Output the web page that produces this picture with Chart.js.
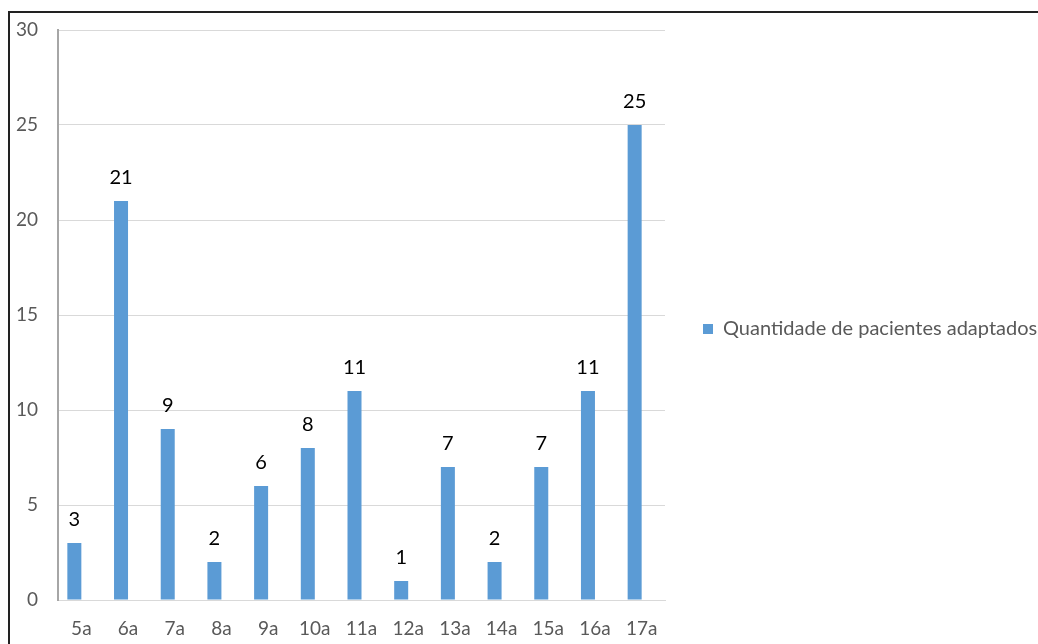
<!DOCTYPE html>
<html>
<head>
<meta charset="utf-8">
<script src="https://cdn.jsdelivr.net/npm/chart.js@4/dist/chart.umd.min.js"></script>
<style>
  html, body { margin: 0; padding: 0; background: #fff; overflow: hidden; }
  #frame {
    position: absolute; left: 8px; top: 11px;
    width: 1030px; height: 633px;
    border-top: 2px solid #222; border-left: 2px solid #222;
  }
  #scaleChart { display: block; }
</style>
</head>
<body>
<div id="frame">
  <canvas id="scaleChart" width="1028" height="631"></canvas>
</div>
<script>
const ages = ['5a', '6a', '7a', '8a', '9a', '10a', '11a', '12a', '13a', '14a', '15a', '16a', '17a'];
const patients = [3, 21, 9, 2, 6, 8, 11, 1, 7, 2, 7, 11, 25];
const seriesName = 'Quantidade de pacientes adaptados';
const yTicks = [0, 5, 10, 15, 20, 25, 30];

const FONT = 'Lato, "Open Sans", sans-serif';

const barLabels = {
  id: 'barLabels',
  afterInit(chart) {
    // keep the legend column at a fixed width so the plot ends where the original does
    let leg = chart.legend;
    let origFit = leg.fit;
    leg.fit = function() {
      origFit.call(this);
      this.width = 373;
    };
  },
  afterLayout(chart) {
    // legend sits a bit above the middle in the original
    chart.legend.top -= 8;
    chart.legend.bottom -= 8;
  },
  afterDatasetsDraw(chart) {
    let ctx = chart.ctx;
    let meta = chart.getDatasetMeta(0);
    ctx.save();
    ctx.font = '20px ' + FONT;
    ctx.fillStyle = '#000';
    ctx.textAlign = 'center';
    ctx.textBaseline = 'alphabetic';
    meta.data.forEach(function(bar, i) {
      ctx.fillText(String(patients[i]), bar.x, bar.y - 17);
    });
    ctx.restore();
  }
};

function setupChart() {
  let ctx = document.getElementById('scaleChart');
  let myChart = new Chart(ctx, {
    type: 'bar',
    data: {
      labels: ages,
      datasets: [{
        label: seriesName,
        data: patients,
        backgroundColor: '#5b9bd5',
        barPercentage: 1.0,
        categoryPercentage: 0.6
      }, {
        // empty slot: the original draws its bars a little left of the tick centre
        label: '',
        data: [],
        backgroundColor: 'rgba(0,0,0,0)',
        barPercentage: 1.0,
        categoryPercentage: 0.6
      }]
    },
    options: {
      responsive: false,
      animation: { duration: 0 },
      layout: { padding: { left: 0, right: 0, top: 17, bottom: 0 } },
      plugins: {
        tooltip: { enabled: false },
        legend: {
          position: 'right',
          labels: {
            boxWidth: 10, boxHeight: 10,
            color: '#595959',
            font: { family: FONT, size: 20 },
            padding: 38,
            filter: item => item.datasetIndex === 0
          }
        }
      },
      scales: {
        x: {
          afterFit(scale) { scale.height = 44; },
          grid: { display: false, drawTicks: false },
          border: { color: '#d9d9d9' },
          ticks: {
            color: '#595959', padding: 17,
            font: { family: FONT, size: 19 }
          }
        },
        y: {
          min: 0, max: 30,
          afterBuildTicks(scale) { scale.ticks = yTicks.map(v => ({ value: v })); },
          afterFit(scale) {
            scale.width = 48;
            scale.paddingTop = 0;
            scale.paddingBottom = 0;
          },
          grid: { color: '#d9d9d9', drawTicks: false },
          border: { color: '#a6a6a6', width: 2 },
          ticks: {
            color: '#595959', padding: 20,
            font: { family: FONT, size: 19 }
          }
        }
      }
    },
    plugins: [barLabels]
  });
}

setupChart();
</script>
</body>
</html>
